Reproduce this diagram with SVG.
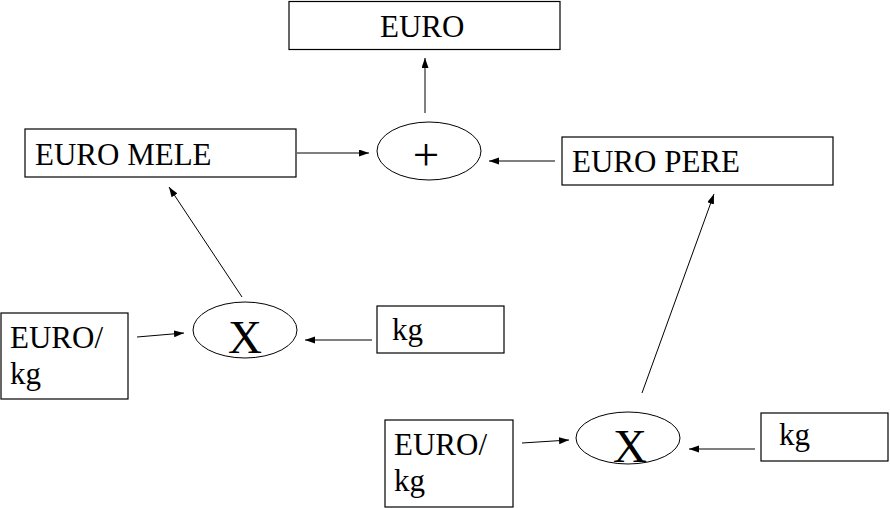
<svg xmlns="http://www.w3.org/2000/svg" width="890" height="508" viewBox="0 0 890 508">
<style>
.box{fill:#fff;stroke:#000;stroke-width:1.2}
.ell{fill:#fff;stroke:#000;stroke-width:1}
.t{font-family:"Liberation Serif","Times New Roman",serif;font-size:31px;fill:#000}
.op{font-family:"Liberation Serif","Times New Roman",serif;font-size:47px;fill:#000;text-anchor:middle}
.c{stroke:#000;stroke-width:1;fill:none;marker-end:url(#ah)}
</style>
<defs>
<marker id="ah" markerUnits="userSpaceOnUse" markerWidth="11" markerHeight="8" refX="10" refY="3.5" orient="auto">
<path d="M0,0 L10,3.5 L0,7 z" fill="#000"/>
</marker>
</defs>
<rect width="890" height="508" fill="#fff"/>
<g id="connectors">
<line class="c" x1="425" y1="113" x2="425" y2="58"/>
<line class="c" x1="297" y1="153" x2="369" y2="153"/>
<line class="c" x1="555" y1="161" x2="489" y2="161"/>
<line class="c" x1="242" y1="297" x2="169" y2="187"/>
<line class="c" x1="137" y1="337" x2="184" y2="333"/>
<line class="c" x1="372" y1="340" x2="305" y2="340"/>
<line class="c" x1="642" y1="393" x2="714" y2="194"/>
<line class="c" x1="522" y1="443" x2="569" y2="440"/>
<line class="c" x1="755" y1="449" x2="689" y2="449"/>
</g>
<g id="euro">
<rect class="box" x="289" y="1.5" width="271" height="48"/>
<text class="t" x="380" y="37">EURO</text>
</g>
<g id="plus">
<ellipse class="ell" cx="429" cy="151" rx="52" ry="29"/>
<text class="op" x="426" y="170">+</text>
</g>
<g id="euro-mele">
<rect class="box" x="25" y="129" width="271" height="48"/>
<text class="t" x="35" y="165">EURO MELE</text>
</g>
<g id="euro-pere">
<rect class="box" x="562" y="137" width="271" height="48"/>
<text class="t" x="572" y="172">EURO PERE</text>
</g>
<g id="x-left">
<ellipse class="ell" cx="245" cy="330" rx="52" ry="28"/>
<text class="op" x="245" y="353">X</text>
</g>
<g id="eurokg-left">
<rect class="box" x="1" y="313" width="127" height="86"/>
<text class="t" x="10" y="348">EURO/</text>
<text class="t" x="10" y="384">kg</text>
</g>
<g id="kg-left">
<rect class="box" x="377" y="306" width="127" height="47"/>
<text class="t" x="392" y="340">kg</text>
</g>
<g id="x-right">
<ellipse class="ell" cx="628" cy="438" rx="52" ry="26"/>
<text class="op" x="630" y="462">X</text>
</g>
<g id="eurokg-right">
<rect class="box" x="385" y="420" width="128" height="87"/>
<text class="t" x="394" y="455">EURO/</text>
<text class="t" x="394" y="491">kg</text>
</g>
<g id="kg-right">
<rect class="box" x="761" y="413" width="127" height="48"/>
<text class="t" x="779" y="445">kg</text>
</g>
</svg>
